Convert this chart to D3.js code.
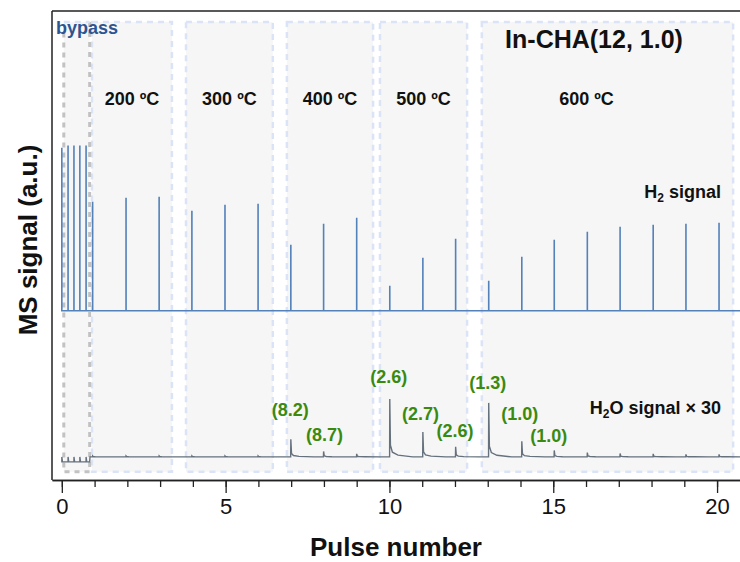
<!DOCTYPE html>
<html><head><meta charset="utf-8">
<script src="https://cdn.jsdelivr.net/npm/d3@7"></script>
<style>body{margin:0;background:#fff}svg{display:block}text{font-family:"Liberation Sans",Arial,sans-serif}</style>
</head><body>
<svg id="c" width="740" height="562"></svg>
<script>
// ---- data ----
const bypassPulseX = [0, 0.19, 0.37, 0.55, 0.74];
const bypassH2 = [0.987, 1.0, 1.0, 1.0, 1.0];
const bypassH2O = [0.03, 0.03, 0.03, 0.03, 0.03];
const pulseNumbers = d3.range(1, 21);
const pulseX = [0.94, 1.96, 2.97, 3.97, 4.98, 5.99, 6.99, 7.99, 9.0, 10.01, 11.02, 12.02, 13.03, 14.04, 15.03, 16.04, 17.04, 18.05, 19.05, 20.06];
const h2Values = [0.660, 0.684, 0.690, 0.606, 0.642, 0.648, 0.400, 0.527, 0.563, 0.151, 0.321, 0.436, 0.182, 0.327, 0.430, 0.478, 0.509, 0.521, 0.527, 0.533];
const h2oValues = [0.006, 0.006, 0.006, 0.006, 0.006, 0.006, 0.106, 0.033, 0.018, 0.351, 0.151, 0.061, 0.327, 0.094, 0.039, 0.026, 0.021, 0.018, 0.015, 0.015];
const h2Offset = 0.885;
const regionNames = ["bypass", "200 ºC", "300 ºC", "400 ºC", "500 ºC", "600 ºC"];
const regionStart = [0.06, 0.92, 3.79, 6.87, 9.71, 12.82];
const regionEnd   = [0.85, 3.36, 6.44, 9.50, 12.37, 20.49];
const ratioLabels = ["(8.2)", "(8.7)", "(2.6)", "(2.7)", "(2.6)", "(1.3)", "(1.0)", "(1.0)"];
const ratioPulse  = [6.97, 8.02, 9.98, 10.95, 12.0, 13.0, 13.98, 14.86];
const ratioLevel  = [0.245, 0.095, 0.445, 0.225, 0.12, 0.41, 0.225, 0.09];
const xTicksMajor = [0, 5, 10, 15, 20];
const xTicksMinor = d3.range(0, 21);

// ---- scales ----
const svg = d3.select("#c");
const x = d3.scaleLinear().domain([-0.3, 20.7]).range([52, 740]);
const y = d3.scaleLinear().domain([-0.14, 2.70]).range([480, 11]);
const boxTop = 2.634, boxBottom = -0.09;

// ---- regions ----
const g = svg.append("g");
regionNames.forEach((name, i) => {
  g.append("rect")
    .attr("x", x(regionStart[i])).attr("y", y(boxTop))
    .attr("width", x(regionEnd[i]) - x(regionStart[i]))
    .attr("height", y(boxBottom) - y(boxTop))
    .attr("fill", "#f6f6f6")
    .attr("stroke", i === 0 ? "none" : "#dbe3f7")
    .attr("stroke-width", 2.5)
    .attr("stroke-dasharray", "6,5");
});
const bx0 = x(regionStart[0]), bx1 = x(regionEnd[0]);
const bp = d3.path();
bp.moveTo(bx0, y(2.57)); bp.lineTo(bx0, y(boxBottom)); bp.lineTo(bx1, y(boxBottom)); bp.lineTo(bx1, y(boxTop));
g.append("path").attr("d", bp.toString()).attr("fill", "none")
  .attr("stroke", "#c2c2c2").attr("stroke-width", 3).attr("stroke-dasharray", "5,5");
g.append("line").attr("x1", bx0).attr("x2", bx1).attr("y1", y(boxTop)).attr("y2", y(boxTop))
  .attr("stroke", "#dbe3f7").attr("stroke-width", 2.5).attr("stroke-dasharray", "6,5");

// ---- H2 trace ----
const h2All = bypassPulseX.map((px, i) => [px, bypassH2[i]]).concat(pulseX.map((px, i) => [px, h2Values[i]]));
const h2Pts = [[-0.02, 0]];
h2All.forEach(([px, v]) => { h2Pts.push([px, 0], [px, v], [px + 0.001, 0]); });
h2Pts.push([20.7, 0]);
const line = d3.line().x(d => x(d[0])).y(d => y(d[1]));
svg.append("path").attr("d", line(h2Pts.map(d => [d[0], d[1] + h2Offset])))
  .attr("fill", "none").attr("stroke", "#5381ba").attr("stroke-width", 1.6);

// ---- H2O trace (x30) ----
const h2oPts = [[-0.02, -0.03]];
bypassPulseX.forEach((px, i) => {
  h2oPts.push([px, -0.03], [px, -0.03 + bypassH2O[i]], [px + 0.02, -0.03]);
});
h2oPts.push([0.85, -0.03], [0.86, 0]);
pulseX.forEach((px, i) => {
  const h = h2oValues[i];
  h2oPts.push([px - 0.005, 0], [px, h], [px + 0.02, h * 0.2], [px + 0.08, h * 0.08], [px + 0.25, h * 0.03], [px + 0.7, 0]);
});
h2oPts.push([20.7, 0]);
svg.append("path").attr("d", line(h2oPts))
  .attr("fill", "none").attr("stroke", "#66717e").attr("stroke-width", 1.4);

// ---- frame / axes ----
svg.append("line").attr("x1", 52).attr("x2", 740).attr("y1", 11).attr("y2", 11).attr("stroke", "#222").attr("stroke-width", 1.5);
svg.append("line").attr("x1", 52).attr("x2", 52).attr("y1", 11).attr("y2", 480).attr("stroke", "#222").attr("stroke-width", 1.5);
const axMinor = svg.append("g").attr("transform", "translate(0,480)")
  .call(d3.axisBottom(x).tickValues(xTicksMinor).tickSize(7).tickFormat("").tickSizeOuter(0));
const axMajor = svg.append("g").attr("transform", "translate(0,480)")
  .call(d3.axisBottom(x).tickValues(xTicksMajor).tickSize(13).tickPadding(5).tickSizeOuter(0));
[axMinor, axMajor].forEach(a => {
  a.select(".domain").attr("stroke", "#222").attr("stroke-width", 1.5);
  a.selectAll(".tick line").attr("stroke", "#222").attr("stroke-width", 1.3);
});
axMajor.selectAll(".tick text").attr("font-size", 22).attr("fill", "#111").attr("font-family", "Liberation Sans, Arial, sans-serif");

svg.append("text").attr("x", 396).attr("y", 556).attr("text-anchor", "middle")
  .attr("font-size", 26).attr("font-weight", "bold").attr("fill", "#111").text("Pulse number");
svg.append("text").attr("transform", "translate(37,240) rotate(-90)").attr("text-anchor", "middle")
  .attr("font-size", 26).attr("font-weight", "bold").attr("fill", "#111").text("MS signal (a.u.)");

// ---- annotations ----
svg.append("text").attr("x", 56).attr("y", 34).attr("font-size", 18).attr("font-weight", "bold")
  .attr("fill", "#2b5592").text(regionNames[0]);
regionNames.slice(1).forEach((name, i) => {
  const k = i + 1;
  svg.append("text").attr("x", (x(regionStart[k]) + x(regionEnd[k])) / 2 + (k === 5 ? -21 : 0))
    .attr("y", 105).attr("text-anchor", "middle").attr("font-size", 18).attr("font-weight", "bold")
    .attr("fill", "#111").text(name);
});
svg.append("text").attr("x", 594).attr("y", 48).attr("text-anchor", "middle")
  .attr("font-size", 25).attr("font-weight", "bold").attr("fill", "#111").text("In-CHA(12, 1.0)");

const h2Label = svg.append("text").attr("x", 721).attr("y", 198).attr("text-anchor", "end")
  .attr("font-size", 18).attr("font-weight", "bold").attr("fill", "#111");
h2Label.append("tspan").text("H");
h2Label.append("tspan").attr("font-size", 12).attr("dy", 4).text("2");
h2Label.append("tspan").attr("dy", -4).text(" signal");
const h2oLabel = svg.append("text").attr("x", 721).attr("y", 414).attr("text-anchor", "end")
  .attr("font-size", 18).attr("font-weight", "bold").attr("fill", "#111");
h2oLabel.append("tspan").text("H");
h2oLabel.append("tspan").attr("font-size", 12).attr("dy", 4).text("2");
h2oLabel.append("tspan").attr("dy", -4).text("O signal × 30");

ratioLabels.forEach((t, i) => {
  svg.append("text").attr("x", x(ratioPulse[i])).attr("y", y(ratioLevel[i]))
    .attr("text-anchor", "middle").attr("font-size", 18).attr("font-weight", "bold")
    .attr("fill", "#3a8a10").text(t);
});
</script>
</body></html>
